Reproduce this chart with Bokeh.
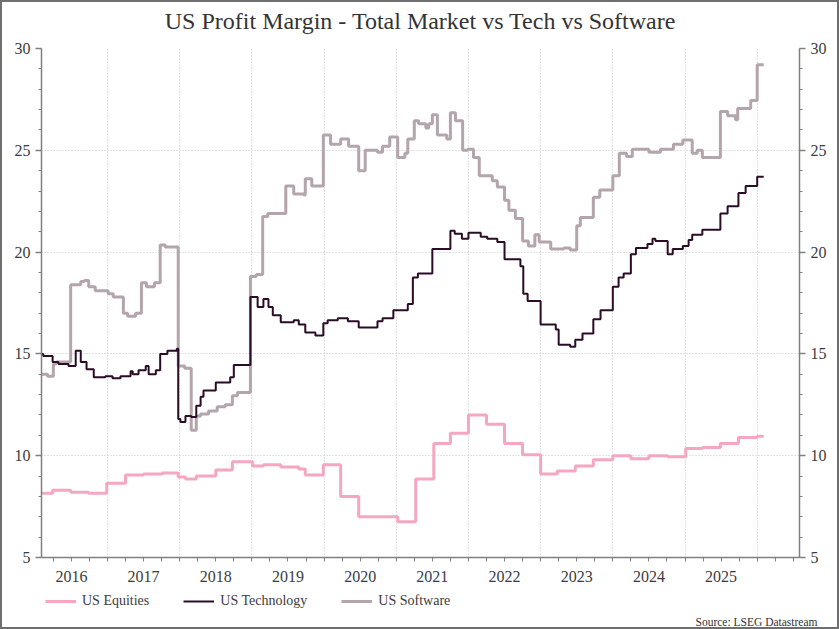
from bokeh.plotting import figure
from bokeh.layouts import column
from bokeh.models import (Range1d, FixedTicker, SingleIntervalTicker, LinearAxis,
                          CustomJSTickFormatter, Label, Legend, LegendItem, Title)
from bokeh.embed import file_html
from bokeh.resources import INLINE

# ---------------- data (decimal years, % margin) ----------------
sw_t = [2016.09, 2016.17, 2016.25, 2016.29, 2016.49, 2016.63, 2016.68, 2016.74, 2016.83, 2017.01,
        2017.08, 2017.22, 2017.28, 2017.39, 2017.47, 2017.54, 2017.65, 2017.73, 2017.80, 2017.98,
        2018.07, 2018.16, 2018.23, 2018.29, 2018.40, 2018.52, 2018.63, 2018.73, 2018.80, 2018.98,
        2019.06, 2019.15, 2019.22, 2019.47, 2019.58, 2019.72, 2019.74, 2019.83, 2019.99, 2020.09,
        2020.23, 2020.34, 2020.48, 2020.57, 2020.74, 2020.81, 2020.91, 2021.02, 2021.12, 2021.16,
        2021.25, 2021.31, 2021.41, 2021.45, 2021.50, 2021.57, 2021.70, 2021.75, 2021.82, 2021.92,
        2021.99, 2022.07, 2022.15, 2022.33, 2022.40, 2022.50, 2022.56, 2022.65, 2022.75, 2022.83,
        2022.92, 2022.98, 2023.14, 2023.32, 2023.41, 2023.50, 2023.55, 2023.73, 2023.82, 2024.00,
        2024.09, 2024.19, 2024.27, 2024.50, 2024.66, 2024.84, 2024.97, 2025.10, 2025.17, 2025.24,
        2025.49, 2025.59, 2025.70, 2025.73, 2025.91, 2026.00, 2026.09]
sw_v = [14.0, 13.9, 14.5, 14.6, 18.4, 18.55, 18.6, 18.3, 18.1, 17.95,
        17.8, 17.0, 16.85, 17.0, 18.5, 18.3, 18.5, 20.35, 20.25, 14.4,
        14.3, 11.25, 11.95, 12.05, 12.2, 12.4, 12.5, 12.95, 13.1, 18.8,
        18.9, 21.75, 21.9, 23.25, 22.85, 22.8, 23.6, 23.25, 25.75, 25.3,
        25.55, 25.2, 24.0, 25.0, 24.9, 25.2, 25.65, 24.65, 24.85, 25.55,
        26.45, 26.3, 26.1, 26.3, 26.75, 25.75, 25.55, 26.85, 26.45, 25.0,
        25.05, 24.65, 23.75, 23.5, 23.2, 22.55, 22.05, 21.65, 20.55, 20.3,
        20.85, 20.5, 20.15, 20.2, 20.1, 21.3, 21.7, 22.7, 23.05, 23.75,
        24.85, 24.7, 25.05, 24.9, 25.05, 25.3, 25.5, 24.85, 25.0, 24.65,
        26.9, 26.7, 26.5, 27.05, 27.45, 29.2, 29.2]

tech_t = [2016.09, 2016.11, 2016.24, 2016.32, 2016.46, 2016.56, 2016.63, 2016.71, 2016.81, 2016.97,
          2017.07, 2017.18, 2017.32, 2017.35, 2017.43, 2017.53, 2017.57, 2017.67, 2017.73, 2017.83,
          2017.96, 2017.98, 2018.01, 2018.08, 2018.16, 2018.23, 2018.29, 2018.33, 2018.50, 2018.70,
          2018.75, 2018.98, 2019.08, 2019.16, 2019.23, 2019.29, 2019.40, 2019.58, 2019.65, 2019.74,
          2019.88, 2019.99, 2020.05, 2020.19, 2020.33, 2020.48, 2020.74, 2020.81, 2020.96, 2021.16,
          2021.23, 2021.30, 2021.50, 2021.75, 2021.81, 2021.91, 2022.00, 2022.17, 2022.26, 2022.40,
          2022.50, 2022.72, 2022.76, 2022.82, 2023.00, 2023.21, 2023.25, 2023.41, 2023.48, 2023.58,
          2023.73, 2023.83, 2024.00, 2024.08, 2024.15, 2024.25, 2024.32, 2024.48, 2024.55, 2024.59,
          2024.76, 2024.83, 2024.97, 2025.05, 2025.10, 2025.24, 2025.49, 2025.59, 2025.74, 2025.84,
          2026.00, 2026.09]
tech_v = [15.0, 14.9, 14.6, 14.5, 14.4, 15.15, 14.6, 14.25, 13.85, 13.9,
          13.8, 13.9, 14.15, 14.0, 14.2, 14.4, 14.0, 14.2, 15.0, 15.15,
          15.25, 11.8, 11.65, 11.95, 11.9, 12.45, 12.9, 13.2, 13.6, 13.85,
          14.45, 17.8, 17.3, 17.7, 17.3, 16.9, 16.55, 16.65, 16.45, 16.05,
          15.9, 16.5, 16.65, 16.75, 16.6, 16.3, 16.6, 16.75, 17.15, 17.45,
          18.75, 18.95, 20.15, 21.05, 20.9, 20.65, 20.95, 20.75, 20.65, 20.5,
          19.65, 19.3, 17.95, 17.6, 16.45, 16.2, 15.45, 15.35, 15.7, 16.0,
          16.7, 17.15, 18.3, 18.75, 18.95, 19.9, 20.2, 20.4, 20.65, 20.55,
          19.9, 20.15, 20.3, 20.6, 20.85, 21.1, 21.9, 22.25, 22.9, 23.25,
          23.7, 23.7]

eq_t = [2016.09, 2016.24, 2016.49, 2016.74, 2016.99, 2017.25, 2017.50, 2017.76, 2017.98, 2018.08,
        2018.23, 2018.50, 2018.73, 2019.01, 2019.16, 2019.40, 2019.65, 2019.74, 2019.99, 2020.23,
        2020.48, 2021.02, 2021.27, 2021.52, 2021.75, 2022.00, 2022.25, 2022.50, 2022.75, 2023.00,
        2023.23, 2023.48, 2023.73, 2024.00, 2024.25, 2024.50, 2024.76, 2025.01, 2025.24, 2025.49,
        2025.74, 2026.00, 2026.09]
eq_v = [8.15, 8.3, 8.2, 8.15, 8.65, 9.05, 9.1, 9.15, 8.95, 8.85,
        9.0, 9.3, 9.7, 9.5, 9.55, 9.45, 9.35, 9.05, 9.55, 8.0,
        7.0, 6.75, 8.85, 10.6, 11.1, 12.0, 11.55, 10.6, 10.05, 9.1,
        9.25, 9.5, 9.8, 10.0, 9.85, 10.0, 9.95, 10.35, 10.4, 10.6,
        10.9, 10.95, 10.95]

series_names = ["US Equities", "US Technology", "US Software"]
series_colors = ["#f5a6c0", "#2b0c27", "#b3a5ab"]
series_widths = [3, 2, 3]
series_t = [eq_t, tech_t, sw_t]
series_v = [eq_v, tech_v, sw_v]

year_label_pos = [2016.5 + i for i in range(10)]      # labels 2016..2025
year_bounds = [2017 + i for i in range(10)]           # gridlines 2017..2026
quarters = [2016.25 + 0.25 * i for i in range(42)]

title_text = "US Profit Margin - Total Market vs Tech vs Software"
source_text = "Source: LSEG Datastream"

FONT = "Liberation Serif"
AX = "#808080"
TXT = "#3c3c3c"
W = 835


def blank(h):
    f = figure(width=W, height=h, output_backend="svg", toolbar_location=None,
               x_range=Range1d(0, 1), y_range=Range1d(0, 1),
               x_axis_type=None, y_axis_type=None,
               min_border_left=0, min_border_right=0, min_border_top=0, min_border_bottom=0,
               background_fill_color="white", border_fill_color="white")
    f.outline_line_color = None
    f.xgrid.visible = False
    f.ygrid.visible = False
    return f


# ---------------- header (title) ----------------
header = blank(36)
header.add_layout(Label(x=379, y=18, x_units="screen", y_units="screen", text=title_text,
                        text_font=FONT, text_font_size="24px", text_color="#333333",
                        text_align="center", text_baseline="middle"))

# ---------------- main chart ----------------
p = figure(width=W, height=551, output_backend="svg", toolbar_location=None,
           x_range=Range1d(2016.086, 2026.586), y_range=Range1d(5, 30),
           min_border_left=39, min_border_right=38, min_border_top=10, min_border_bottom=32,
           background_fill_color="white", border_fill_color="white")
p.outline_line_color = None

xa = p.xaxis[0]
xa.ticker = FixedTicker(ticks=year_label_pos, minor_ticks=quarters)
xa.formatter = CustomJSTickFormatter(code="return String(Math.floor(tick));")
xa.major_tick_out = 0
xa.major_tick_in = 0
xa.minor_tick_out = 4
xa.minor_tick_in = 0
xa.axis_line_color = AX
xa.axis_line_width = 1.5
xa.minor_tick_line_color = AX
xa.major_label_standoff = 9
xa.major_label_text_font = FONT
xa.major_label_text_font_size = "16px"
xa.major_label_text_color = TXT


def style_y(ax):
    ax.ticker = SingleIntervalTicker(interval=5, num_minor_ticks=5)
    ax.major_tick_out = 6
    ax.major_tick_in = 0
    ax.minor_tick_out = 3
    ax.minor_tick_in = 0
    ax.axis_line_color = AX
    ax.axis_line_width = 1.5
    ax.major_tick_line_color = AX
    ax.minor_tick_line_color = AX
    ax.major_tick_line_width = 1.5
    ax.major_label_standoff = 5
    ax.major_label_text_font = FONT
    ax.major_label_text_font_size = "16px"
    ax.major_label_text_color = TXT


style_y(p.yaxis[0])
ry = LinearAxis()
style_y(ry)
p.add_layout(ry, "right")

p.xgrid.ticker = FixedTicker(ticks=year_bounds)
p.ygrid.ticker = SingleIntervalTicker(interval=5)
for g in (p.xgrid[0], p.ygrid[0]):
    g.grid_line_color = "#c4c4c4"
    g.grid_line_dash = "1 2"
    g.grid_line_width = 1

# software first, equities on top
for i in (2, 1, 0):
    p.step(series_t[i], series_v[i], mode="after",
           line_color=series_colors[i], line_width=series_widths[i])

# ---------------- footer (legend + source) ----------------
footer = blank(38)
# same series in the footer (outside its visible range) so the legend has real swatches
proxies = [footer.step(t, v, mode="after", line_color=c, line_width=w)
           for t, v, c, w in zip(series_t, series_v, series_colors, series_widths)]
legend = Legend(items=[LegendItem(label=n, renderers=[r]) for n, r in zip(series_names, proxies)],
                orientation="horizontal", location=(4, 2), padding=0, margin=0,
                spacing=34, glyph_width=31, glyph_height=16, label_height=20, label_standoff=6,
                label_text_font=FONT, label_text_font_size="14px", label_text_color=TXT,
                background_fill_alpha=0, border_line_color=None)
footer.add_layout(legend, "center")
footer.add_layout(Title(text=source_text, align="right", text_font=FONT, text_font_size="11.5px",
                        text_color="#333333", text_font_style="normal", standoff=0, offset=-18),
                  "below")

layout = column(header, p, footer, spacing=0)
layout.styles = {"border": "2px solid #6f6f6f"}

open("out.html", "w").write(file_html(layout, INLINE))
